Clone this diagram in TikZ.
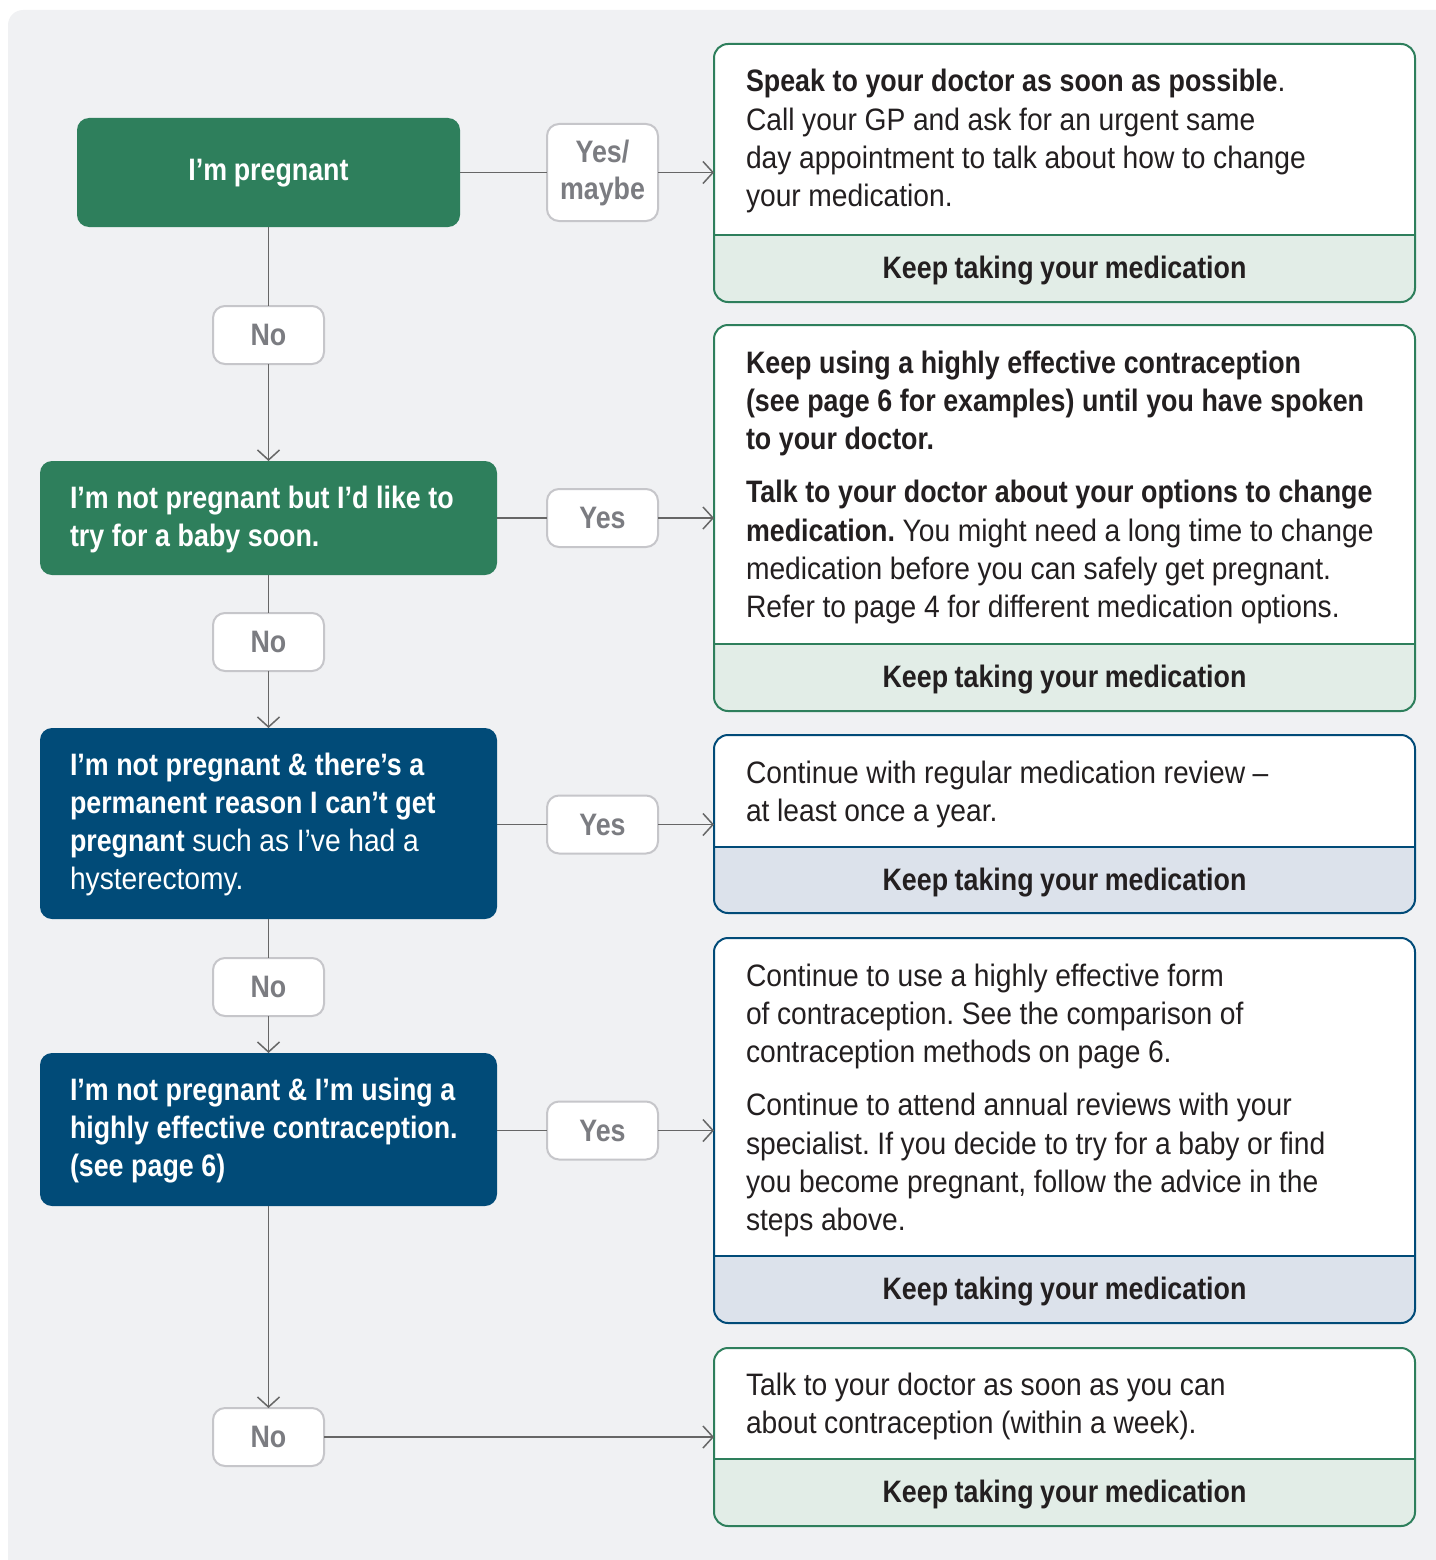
\documentclass[tikz,border=0pt]{standalone}
\usepackage{fontspec}
\setmainfont{Liberation Sans}[WordSpace=0.88,UprightFeatures={FakeStretch=0.91},BoldFeatures={FakeStretch=0.865}]
\frenchspacing
\usetikzlibrary{arrows.meta}
\definecolor{grn}{HTML}{2E7F5C}
\definecolor{blu}{HTML}{014B78}
\definecolor{bgc}{HTML}{F0F1F3}
\definecolor{bandg}{HTML}{E2EDE7}
\definecolor{bandb}{HTML}{DCE2EB}
\definecolor{lblline}{HTML}{C6C6CA}
\definecolor{lbltext}{HTML}{7B7C81}
\definecolor{connc}{HTML}{666666}
\definecolor{ink}{HTML}{231F20}
\newcommand\rdeco[4]{%
  \begin{scope}
    \clip[rounded corners=14] (#1.south west) rectangle (#1.north east);
    \fill[#4] (#1.west |- 0,#2) rectangle (#1.south east);
  \end{scope}
  \draw[#3, line width=2] (#1.west |- 0,#2) -- (#1.east |- 0,#2);
  \draw[#3, line width=2, rounded corners=14] (#1.south west) rectangle (#1.north east);
}
\begin{document}
\begin{tikzpicture}[x=1pt,y=-1pt,
  every node/.style={inner sep=0pt, outer sep=0pt, font=\fontsize{31}{38.3}\selectfont},
  tightspace/.style={execute at begin node={\spaceskip=7.6pt plus 2pt minus 1pt\xspaceskip=7.6pt plus 2pt minus 1pt\relax}},
  lbox/.style={fill=#1, rounded corners=12, minimum width=457},
  ltxt/.style={text=white, font=\fontsize{31}{38.3}\selectfont\bfseries, text width=430, tightspace},
  lbl/.style={fill=white, draw=lblline, line width=2, rounded corners=12, minimum width=111, minimum height=58, text=lbltext, font=\fontsize{31}{37}\selectfont\bfseries, align=center},
  rbox/.style={fill=white, rounded corners=14, minimum width=701},
  rtxt/.style={text=ink, anchor=base west, text width=668, tightspace},
  ktxt/.style={text=ink, anchor=base, font=\fontsize{31}{38.3}\selectfont\bfseries},
  conn/.style={draw=connc, line width=1.5},
  arr/.style={conn, -{Straight Barb[length=10pt,width=22pt]}}
]
\useasboundingbox (0,0) rectangle (1435,1560);
\fill[bgc, rounded corners=15] (8,10) rectangle (1470,1600);

% left decision boxes
\node[lbox=grn, minimum width=383, minimum height=109] (b1) at (268.5,172.5) {};
\node[text=white, font=\fontsize{31}{38.3}\selectfont\bfseries, anchor=base] (t1) at (268.5,180) {I’m pregnant};
\node[lbox=grn, minimum height=114] (b2) at (268.5,518) {};
\node[ltxt, anchor=base west] (t2) at (70,508) {I’m not pregnant but I’d like to\\try for a baby soon.};
\node[lbox=blu, minimum height=191] (b3) at (268.5,823.5) {};
\node[ltxt, anchor=base west] (t3) at (70,775) {I’m not pregnant \& there’s a\\permanent reason I can’t get\\pregnant {\mdseries such as I’ve had a}\\{\mdseries hysterectomy.}};
\node[lbox=blu, minimum height=153] (b4) at (268.5,1129.5) {};
\node[ltxt, anchor=base west] (t4) at (70,1100) {I’m not pregnant \& I’m using a\\highly effective contraception.\\(see page 6)};

% labels
\node[lbl, minimum height=97] (y1) at (602.5,172.5) {Yes/\\maybe};
\node[lbl] (n1) at (268.5,335) {No};
\node[lbl] (y2) at (602.5,518) {Yes};
\node[lbl] (n2) at (268.5,642) {No};
\node[lbl] (y3) at (602.5,824.5) {Yes};
\node[lbl] (n3) at (268.5,987) {No};
\node[lbl] (y4) at (602.5,1130.5) {Yes};
\node[lbl] (n4) at (268.5,1437) {No};

% right boxes
\node[rbox, minimum height=258] (r1) at (1064.5,173) {};
\rdeco{r1}{235}{grn}{bandg}
\node[rbox, minimum height=386] (r2) at (1064.5,518) {};
\rdeco{r2}{644}{grn}{bandg}
\node[rbox, minimum height=178] (r3) at (1064.5,824) {};
\rdeco{r3}{847}{blu}{bandb}
\node[rbox, minimum height=385] (r4) at (1064.5,1130.5) {};
\rdeco{r4}{1256}{blu}{bandb}
\node[rbox, minimum height=178] (r5) at (1064.5,1437) {};
\rdeco{r5}{1459}{grn}{bandg}

\node[rtxt] (p1) at (746,92) {{\bfseries Speak to your doctor as soon as possible}.\\Call your GP and ask for an urgent same\\day appointment to talk about how to change\\your medication.};
\node[rtxt] (p2) at (746,373) {{\bfseries Keep using a highly effective contraception}\\{\bfseries (see page 6 for examples) until you have spoken}\\{\bfseries to your doctor.}\\[15pt]{\bfseries Talk to your doctor about your options to change}\\{\bfseries medication.} You might need a long time to change\\medication before you can safely get pregnant.\\Refer to page 4 for different medication options.};
\node[rtxt] (p3) at (746,783) {Continue with regular medication review –\\at least once a year.};
\node[rtxt] (p4) at (746,986) {Continue to use a highly effective form\\of contraception. See the comparison of\\contraception methods on page 6.\\[15pt]Continue to attend annual reviews with your\\specialist. If you decide to try for a baby or find\\you become pregnant, follow the advice in the\\steps above.};
\node[rtxt] (p5) at (746,1395) {Talk to your doctor as soon as you can\\about contraception (within a week).};

\node[ktxt] (k1) at (1064.5,278) {Keep taking your medication};
\node[ktxt] (k2) at (1064.5,687) {Keep taking your medication};
\node[ktxt] (k3) at (1064.5,890) {Keep taking your medication};
\node[ktxt] (k4) at (1064.5,1299) {Keep taking your medication};
\node[ktxt] (k5) at (1064.5,1502) {Keep taking your medication};

% connectors
\draw[conn] (b1.east |- y1.west) -- (y1.west);
\draw[arr] (y1.east) -- (y1.east -| r1.west);
\draw[conn] (b2.east) -- (y2.west);
\draw[arr] (y2.east) -- (y2.east -| r2.west);
\draw[conn] (b3.east |- y3.west) -- (y3.west);
\draw[arr] (y3.east) -- (y3.east -| r3.west);
\draw[conn] (b4.east |- y4.west) -- (y4.west);
\draw[arr] (y4.east) -- (y4.east -| r4.west);

\draw[conn] (b1.south) -- (n1.north);
\draw[arr] (n1.south) -- (b2.north);
\draw[conn] (b2.south) -- (n2.north);
\draw[arr] (n2.south) -- (b3.north);
\draw[conn] (b3.south) -- (n3.north);
\draw[arr] (n3.south) -- (b4.north);
\draw[arr] (b4.south) -- (n4.north);
\draw[arr] (n4.east) -- (n4.east -| r5.west);
\end{tikzpicture}
\end{document}
